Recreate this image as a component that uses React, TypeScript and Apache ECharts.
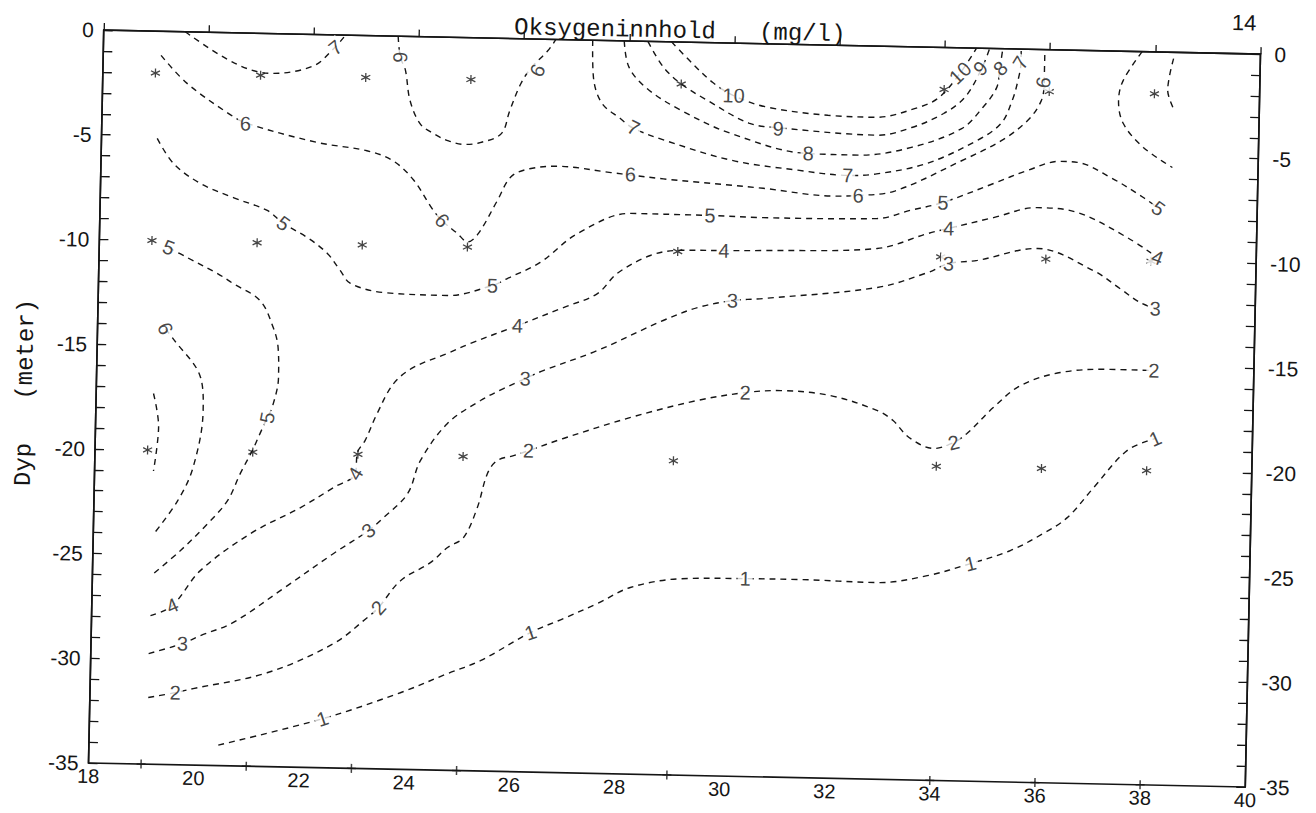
import React, { useEffect, useRef } from "react";
import * as echarts from "echarts";

// Sampling stations (x, km) and sampling depths (m)
const stations = [19, 21, 23, 25, 29, 34, 36, 38];
const sampleDepths = [-2, -10, -20];

// Contour lines (x, depth)
const contour10 = [[28.8,0],[29.2,-1.0],[29.6,-1.9],[30.0,-2.5],[30.6,-3.0],[31.8,-3.35],[32.7,-3.4],[33.5,-2.9],[33.9,-2.4],[34.3,-1.2],[34.6,0]];
const contour9 = [[28.35,0],[28.65,-1.2],[29.0,-2.0],[29.5,-2.75],[30.3,-3.8],[30.9,-4.0],[32.75,-4.25],[33.4,-3.85],[34.0,-3.15],[34.4,-2.35],[34.7,-1.0],[34.85,0]];
const contour8 = [[27.9,0],[28.0,-1.25],[28.35,-2.25],[29.0,-3.25],[29.95,-4.3],[31.45,-5.2],[32.4,-5.22],[33.4,-4.8],[34.35,-3.85],[34.75,-2.8],[35.0,-1.85],[35.05,-0.95],[35.1,0]];
const contour7 = [[27.3,0],[27.33,-1.8],[27.5,-3.0],[27.85,-3.7],[28.1,-4.15],[28.7,-4.7],[30.0,-5.6],[31.25,-6.0],[32.2,-6.2],[32.75,-6.1],[33.7,-5.55],[34.65,-4.4],[35.1,-3.55],[35.3,-2.45],[35.4,-1.5],[35.45,-0.65],[35.45,0]];
const contour7a = [[19.55,0],[20.5,-1.45],[21.2,-1.9],[22.0,-1.5],[22.4,-0.6],[22.6,0]];
const contour6 = [[19.1,-1.15],[19.6,-2.45],[20.4,-3.85],[20.75,-4.3],[22.1,-5.15],[23.05,-5.5],[23.55,-5.95],[23.95,-6.85],[24.3,-8.15],[24.5,-8.75],[24.8,-9.35],[25.0,-9.75],[25.2,-9.35],[25.55,-7.75],[25.8,-6.6],[26.15,-6.2],[26.7,-6.05],[27.7,-6.3],[28.1,-6.4],[28.7,-6.55],[30.6,-6.9],[31.9,-7.2],[32.4,-7.15],[33.1,-6.9],[34.35,-5.4],[35.1,-4.4],[35.6,-3.4],[35.85,-2.45],[35.9,-1.55],[35.9,0]];
const contour6b = [[23.6,0],[23.65,-1.0],[23.75,-1.6],[23.85,-3.05],[24.05,-4.15],[24.3,-4.6],[24.6,-4.95],[24.9,-5.1],[25.2,-5.0],[25.6,-4.55],[25.75,-3.45],[25.95,-2.15],[26.15,-1.35],[26.45,-0.55],[26.6,0]];
const contour6c = [[19.29,-14.2],[19.44,-14.66],[19.98,-16.5],[20.04,-18.07],[19.87,-20.8],[19.59,-22.4],[19.15,-24.0]];
const contourLeftShort = [[19.09,-17.3],[19.2,-18.9],[19.12,-21.0]];
const contourRightC = [[37.75,0],[37.4,-1.4],[37.32,-2.35],[37.42,-3.45],[37.81,-4.57],[38.37,-5.5]];
const contourRightShort = [[38.35,-0.3],[38.25,-1.8],[38.37,-2.7]];
const contour5a = [[19.06,-5.12],[19.38,-6.3],[19.9,-7.23],[20.53,-7.87],[21.18,-8.45],[21.49,-9.05],[21.95,-9.7],[22.34,-10.44],[22.59,-11.24],[22.79,-11.85],[23.42,-12.25],[24.64,-12.33],[25.49,-11.81],[25.77,-11.46],[26.39,-10.66],[27.09,-9.24],[28.09,-8.23],[29.6,-8.25],[30.61,-8.3],[32.78,-8.23],[33.4,-7.81],[34.02,-7.4],[34.98,-6.44],[35.61,-5.79],[36.23,-5.32],[36.56,-5.35],[37.2,-6.04],[37.83,-6.96],[38.12,-7.47]];
const contour5b = [[19.32,-10.32],[19.68,-10.78],[20.26,-11.51],[20.56,-11.97],[21.08,-12.76],[21.34,-14.03],[21.44,-14.98],[21.46,-16.41],[21.35,-17.86],[21.26,-18.34],[21.13,-19.11],[20.99,-19.93],[20.77,-21.04],[20.54,-22.34],[20.17,-23.46],[19.66,-24.78],[19.16,-25.9]];
const contour4 = [[19.12,-27.91],[19.53,-27.41],[20.05,-25.71],[20.99,-23.89],[21.93,-22.6],[22.55,-21.61],[22.96,-20.92],[22.99,-19.92],[23.13,-19.34],[23.35,-18.03],[23.65,-16.59],[24.02,-15.8],[24.66,-15.1],[25.09,-14.6],[25.98,-13.7],[26.85,-12.79],[27.49,-12.09],[27.86,-11.1],[28.48,-10.22],[28.99,-9.95],[29.88,-9.91],[30.63,-9.87],[32.79,-9.66],[33.74,-8.9],[34.14,-8.63],[34.99,-8.07],[35.82,-7.55],[36.58,-7.74],[37.54,-8.89],[38.12,-9.81]];
const contour3 = [[19.1,-29.72],[19.74,-29.21],[20.08,-28.81],[20.69,-28.16],[21.63,-26.49],[22.57,-24.77],[23.23,-23.63],[23.51,-23.0],[23.96,-21.83],[24.19,-20.24],[24.69,-18.44],[25.31,-17.31],[25.74,-16.72],[26.15,-16.22],[26.49,-15.82],[27.51,-14.81],[28.75,-13.31],[29.4,-12.66],[30.06,-12.29],[30.65,-12.16],[32.81,-11.52],[33.76,-10.76],[34.15,-10.31],[34.7,-10.13],[35.84,-9.5],[36.91,-10.5],[37.42,-11.33],[37.81,-11.98],[38.1,-12.25]];
const contour2 = [[19.11,-31.82],[19.62,-31.56],[19.96,-31.35],[21.36,-30.52],[22.61,-29.06],[23.24,-27.79],[23.45,-27.3],[23.86,-25.99],[24.42,-25.1],[24.74,-24.36],[25.04,-23.87],[25.29,-22.43],[25.47,-20.79],[25.65,-20.16],[25.96,-19.91],[26.24,-19.66],[26.9,-19.04],[28.17,-17.97],[29.42,-17.1],[30.34,-16.67],[31.01,-16.54],[31.96,-16.73],[32.86,-17.4],[33.16,-17.86],[33.47,-18.65],[33.94,-19.15],[34.32,-18.85],[34.57,-18.4],[35.06,-17.14],[35.57,-16.06],[36.32,-15.4],[37.27,-15.2],[38.1,-15.21]];
const contour1 = [[20.46,-34.02],[22.43,-32.66],[23.9,-31.34],[24.79,-30.38],[25.41,-29.73],[26.35,-28.34],[26.97,-27.64],[27.61,-26.89],[28.23,-26.09],[29.18,-25.62],[30.41,-25.55],[31.41,-25.54],[32.93,-25.61],[33.87,-25.23],[34.69,-24.61],[35.44,-23.95],[36.06,-23.1],[36.51,-22.32],[37.0,-20.86],[37.62,-19.06],[38.15,-18.46]];

// Contour labels: [x, depth, rotation in degrees]
const labels10 = [[30.0,-2.5,0],[34.3,-1.2,45]];
const labels9 = [[30.86,-4.03,0],[34.68,-0.96,45]];
const labels8 = [[31.44,-5.19,0],[35.06,-0.94,45]];
const labels7 = [[22.41,-0.6,40],[28.11,-4.13,-25],[32.2,-6.2,0],[35.44,-0.64,60]];
const labels6 = [[20.73,-4.32,0],[24.51,-8.75,-45],[28.07,-6.37,0],[32.41,-7.15,0],[35.88,-1.57,80],[23.65,-1.0,-90],[26.26,-1.5,65],[19.29,-14.19,-65]];
const labels5 = [[21.49,-9.05,-35],[25.49,-11.81,0],[29.6,-8.25,0],[34.02,-7.4,0],[38.12,-7.47,-35],[19.32,-10.32,-20],[21.26,-18.34,80]];
const labels4 = [[19.53,-27.41,25],[22.96,-20.92,60],[25.98,-13.7,0],[29.88,-9.91,0],[34.14,-8.63,0],[38.12,-9.81,-20]];
const labels3 = [[19.74,-29.21,0],[23.23,-23.63,40],[26.15,-16.22,0],[30.06,-12.29,0],[34.15,-10.31,0],[38.1,-12.25,0]];
const labels2 = [[19.62,-31.56,0],[23.45,-27.3,50],[26.24,-19.66,0],[30.34,-16.67,0],[34.32,-18.85,15],[38.1,-15.21,0]];
const labels1 = [[22.43,-32.66,20],[26.35,-28.34,20],[30.41,-25.55,0],[34.69,-24.61,15],[38.15,-18.46,25]];

const contours = [contour10, contour9, contour8, contour7, contour7a, contour6, contour6b, contour6c, contourLeftShort, contourRightC, contourRightShort, contour5a, contour5b, contour4, contour3, contour2, contour1];
const labelSets: [string, number[][]][] = [["10", labels10], ["9", labels9], ["8", labels8], ["7", labels7], ["6", labels6], ["5", labels5], ["4", labels4], ["3", labels3], ["2", labels2], ["1", labels1]];

const INK = "#151515";
const STAR = "path://M5,0L5,10M0.7,2.5L9.3,7.5M0.7,7.5L9.3,2.5";
const PLUS = "path://M5,0L5,10M0,5L10,5";

function buildOption() {
  const lineSeries = contours.map((d) => ({
    type: "line",
    data: d,
    smooth: 0.35,
    symbol: "none",
    silent: true,
    z: 2,
    lineStyle: { color: INK, width: 1.4, type: [6, 5] },
  }));
  const labelData: any[] = [];
  labelSets.forEach(([txt, arr]) => {
    arr.forEach(([x, y, r]) => {
      labelData.push({ value: [x, y], name: txt, label: { rotate: r } });
    });
  });
  const axisLabelStyle = { fontSize: 21, color: INK, fontFamily: "Liberation Sans" };
  const yAxisBase = {
    type: "value",
    min: -35,
    max: 0,
    interval: 5,
    axisLine: { show: true, lineStyle: { color: INK, width: 1.6 } },
    axisTick: { show: true, inside: true, length: 9, lineStyle: { color: INK, width: 1.3 } },
    minorTick: { show: true, splitNumber: 5, length: 9, lineStyle: { color: INK, width: 1.3 } },
    splitLine: { show: false },
    minorSplitLine: { show: false },
  };
  return {
    animation: false,
    backgroundColor: "#ffffff",
    grid: { left: 96, right: 63, top: 42, bottom: 38, show: true, borderColor: INK, borderWidth: 1.6, backgroundColor: "transparent" },
    xAxis: {
      type: "value",
      min: 18,
      max: 40,
      interval: 2,
      axisLine: { show: true, lineStyle: { color: INK, width: 1.6 } },
      axisTick: { show: true, inside: true, length: 7, lineStyle: { color: INK, width: 1.3 } },
      axisLabel: { ...axisLabelStyle, fontSize: 20, margin: 3 },
      splitLine: { show: false },
    },
    yAxis: [
      { ...yAxisBase, position: "left", axisLabel: { ...axisLabelStyle, margin: 10 } },
      { ...yAxisBase, position: "right", axisLabel: { ...axisLabelStyle, margin: 14 } },
    ],
    graphic: [
      { type: "text", x: 672, y: 43, style: { text: "Oksygeninnhold   (mg/l)", font: '24px "Liberation Mono"', fill: INK, align: "center", verticalAlign: "bottom", textAlign: "center", textVerticalAlign: "bottom" } },
      { type: "text", x: 25, y: 406, rotation: Math.PI / 2, style: { text: "Dyp   (meter)", font: '24px "Liberation Mono"', fill: INK, align: "center", verticalAlign: "middle", textAlign: "center", textVerticalAlign: "middle" } },
      { type: "text", x: 1236, y: 11, style: { text: "14", font: '22px "Liberation Sans"', fill: INK, align: "center", verticalAlign: "middle", textAlign: "center", textVerticalAlign: "middle" } },
    ],
    series: [
      ...lineSeries,
      {
        type: "scatter",
        data: stations.flatMap((x) => sampleDepths.map((d) => [x, d])),
        symbol: STAR,
        symbolSize: 9,
        silent: true,
        z: 3,
        itemStyle: { color: "none", borderColor: INK, borderWidth: 1.3 },
      },
      {
        type: "scatter",
        data: stations.map((x) => [x, -35]),
        symbol: PLUS,
        symbolSize: 9,
        silent: true,
        z: 3,
        itemStyle: { color: "none", borderColor: INK, borderWidth: 1.5 },
      },
      {
        type: "scatter",
        data: labelData,
        symbol: "circle",
        symbolSize: 1,
        silent: true,
        z: 4,
        itemStyle: { color: "rgba(0,0,0,0)" },
        label: {
          show: true,
          position: "inside",
          formatter: (p: any) => p.name,
          fontSize: 20,
          fontFamily: "Liberation Sans",
          color: INK,
          backgroundColor: "#ffffff",
          padding: [0, 2],
        },
      },
    ],
  };
}

export default function App() {
  const ref = useRef<HTMLDivElement>(null);
  useEffect(() => {
    document.body.style.margin = "0";
    const chart = echarts.init(ref.current!, null, { renderer: "svg" });
    chart.setOption(buildOption() as any);
    return () => chart.dispose();
  }, []);
  return (
    <div style={{ position: "fixed", left: 0, top: 0, width: 1316, height: 813, background: "#fff", overflow: "hidden" }}>
      <div ref={ref} style={{ width: 1316, height: 813, transform: "rotate(1.19deg)", transformOrigin: "674px 408px" }} />
    </div>
  );
}
